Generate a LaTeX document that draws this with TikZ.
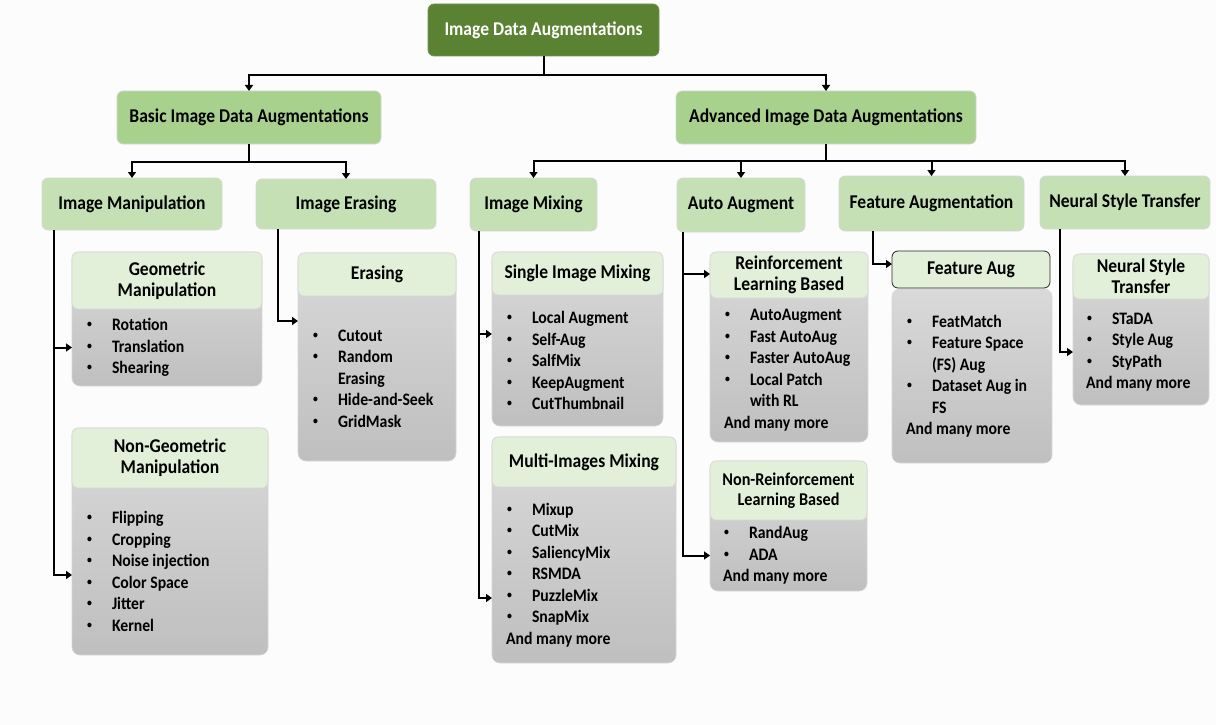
\documentclass[tikz,border=0pt]{standalone}
\usepackage{fontspec}
\setmainfont{Carlito}[FakeStretch=0.9]
\usetikzlibrary{arrows.meta,backgrounds,calc}
\definecolor{rootgreen}{HTML}{5A8232}
\definecolor{lvltwo}{HTML}{A9D18E}
\definecolor{lvlthree}{HTML}{C5E0B4}
\definecolor{hdrgreen}{HTML}{E2F0D9}
\definecolor{bodytop}{HTML}{D9D9D9}
\definecolor{bodybot}{HTML}{BFBFBF}
\definecolor{edgecol}{HTML}{D6D6D6}
\definecolor{bgcol}{HTML}{FCFCFC}
\newcommand{\smallbul}{\raisebox{0.17em}{\scalebox{0.62}{\textbullet}}}
\newcommand{\itm}[1]{\makebox[26pt][l]{\hspace*{1pt}\smallbul}#1}
\newcommand{\cnt}[1]{\hspace*{26pt}#1}
\newcommand{\hfnt}{\fontsize{19.5}{21}\selectfont\bfseries}
\newcommand{\bfnt}{\fontsize{17.5}{21.5}\selectfont\bfseries}
\begin{document}
\begin{tikzpicture}[x=1pt,y=-1pt,
  every node/.style={outer sep=0pt},
  box/.style 2 args={minimum width=#1, minimum height=#2, inner sep=0pt,
    anchor=north west, rounded corners=6pt, draw=edgecol, line width=0.7pt,
    align=center, font=\hfnt},
  rootbox/.style={fill=rootgreen, draw=rootgreen!85!white, text=white},
  twobox/.style={fill=lvltwo},
  threebox/.style={fill=lvlthree},
  hdrbox/.style={fill=hdrgreen},
  bodyarea/.style 2 args={minimum width=#1, minimum height=#2, inner sep=0pt, anchor=north west},
  lst/.style={anchor=west, align=left, inner sep=0pt, font=\bfnt},
  bodybg/.style={top color=bodytop, bottom color=bodybot, draw=edgecol, line width=0.7pt, rounded corners=8pt},
  conn/.style={draw=black, line width=2pt, -{Triangle[length=6pt,width=8pt]}},
]
% top levels
\node[box={231pt}{52pt}, rootbox] (root) at (428,4) {Image Data Augmentations};
\node[box={264pt}{53pt}, twobox] (basic) at (117,91) {Basic Image Data Augmentations};
\node[box={300pt}{53pt}, twobox] (adv) at (676,91) {Advanced Image Data Augmentations};
\node[box={180pt}{52pt}, threebox] (manip) at (42,178) {Image Manipulation};
\node[box={180pt}{50pt}, threebox] (erase) at (256,179) {Image Erasing};
\node[box={127pt}{53pt}, threebox] (mix) at (470,178) {Image Mixing};
\node[box={128pt}{54pt}, threebox] (auto) at (677,178) {Auto Augment};
\node[box={185pt}{55pt}, threebox] (feat) at (839,176) {Feature Augmentation};
\node[box={170pt}{53pt}, threebox] (nst) at (1040,176) {Neural Style Transfer};

% sub boxes: headers
\node[box={190pt}{57pt}, hdrbox] (geoH) at (72,252) {Geometric\\Manipulation};
\node[box={196pt}{60pt}, hdrbox] (ngeoH) at (72,428) {Non-Geometric\\Manipulation};
\node[box={158pt}{43pt}, hdrbox] (erH) at (298,253) {Erasing};
\node[box={171pt}{43pt}, hdrbox] (sglH) at (492,252) {Single Image Mixing};
\node[box={184pt}{50pt}, hdrbox] (mulH) at (492,437) {Multi-Images Mixing};
\node[box={158pt}{46pt}, hdrbox] (rlH) at (710,252) {Reinforcement\\Learning Based};
\node[box={157pt}{59pt}, hdrbox, font=\fontsize{18}{20.5}\selectfont\bfseries] (nrlH) at (710,461) {Non-Reinforcement\\Learning Based};
\node[box={158pt}{37pt}, hdrbox, draw=black!85, line width=0.8pt] (faH) at (892,251) {Feature Aug};
\node[box={136pt}{45pt}, hdrbox] (nstsH) at (1073,254) {Neural Style\\Transfer};

% sub boxes: body areas
\node[bodyarea={190pt}{77pt}] (geoB) at (72,309) {};
\node[bodyarea={196pt}{167pt}] (ngeoB) at (72,488) {};
\node[bodyarea={158pt}{165pt}] (erB) at (298,296) {};
\node[bodyarea={171pt}{131pt}] (sglB) at (492,295) {};
\node[bodyarea={184pt}{176pt}] (mulB) at (492,487) {};
\node[bodyarea={158pt}{144pt}] (rlB) at (710,298) {};
\node[bodyarea={157pt}{71pt}] (nrlB) at (710,520) {};
\node[bodyarea={160pt}{174pt}] (faB) at (892,289) {};
\node[bodyarea={136pt}{106pt}] (nstsB) at (1073,299) {};

% lists
\node[lst] (geoL) at ([xshift=14pt]geoB.west) {\itm{Rotation}\\\itm{Translation}\\\itm{Shearing}};
\node[lst] (ngeoL) at ([xshift=14pt]ngeoB.west) {\itm{Flipping}\\\itm{Cropping}\\\itm{Noise injection}\\\itm{Color Space}\\\itm{Jitter}\\\itm{Kernel}};
\node[lst] (erL) at ([xshift=14pt]erB.west) {\itm{Cutout}\\\itm{Random}\\\cnt{Erasing}\\\itm{Hide-and-Seek}\\\itm{GridMask}};
\node[lst] (sglL) at ([xshift=14pt]sglB.west) {\itm{Local Augment}\\\itm{Self-Aug}\\\itm{SalfMix}\\\itm{KeepAugment}\\\itm{CutThumbnail}};
\node[lst] (mulL) at ([xshift=14pt]mulB.west) {\itm{Mixup}\\\itm{CutMix}\\\itm{SaliencyMix}\\\itm{RSMDA}\\\itm{PuzzleMix}\\\itm{SnapMix}\\And many more};
\node[lst] (rlL) at ([xshift=14pt]rlB.west) {\itm{AutoAugment}\\\itm{Fast AutoAug}\\\itm{Faster AutoAug}\\\itm{Local Patch}\\\cnt{with RL}\\And many more};
\node[lst] (nrlL) at ([xshift=13pt]nrlB.west) {\itm{RandAug}\\\itm{ADA}\\And many more};
\node[lst] (faL) at ([xshift=14pt]faB.west) {\itm{FeatMatch}\\\itm{Feature Space}\\\cnt{(FS) Aug}\\\itm{Dataset Aug in}\\\cnt{FS}\\And many more};
\node[lst] (nstsL) at ([xshift=13pt]nstsB.west) {\itm{STaDA}\\\itm{Style Aug}\\\itm{StyPath}\\And many more};

% tree connectors
\draw[conn] (root.south) -- ++(0,19) -| (basic.north);
\draw[conn] (root.south) -- ++(0,19) -| (adv.north);
\draw[conn] (basic.south) -- ++(0,18) -| (manip.north);
\draw[conn] (basic.south) -- ++(0,18) -| (erase.north);
\draw[conn] (adv.south) -- ++(0,17) -| (mix.north);
\draw[conn] (adv.south) -- ++(0,17) -| (auto.north);
\draw[conn] (adv.south) -- ++(0,17) -| (feat.north);
\draw[conn] (adv.south) -- ++(0,17) -| (nst.north);

% side connectors
\coordinate (manipS) at ([xshift=12pt]manip.south west);
\coordinate (eraseS) at ([xshift=22pt]erase.south west);
\coordinate (mixS) at ([xshift=8.5pt]mix.south west);
\coordinate (autoS) at ([xshift=6pt]auto.south west);
\coordinate (featS) at ([xshift=34pt]feat.south west);
\coordinate (nstS) at ([xshift=20pt]nst.south west);
\draw[conn] (manipS) |- (geoB.west);
\draw[conn] (manipS) |- ([yshift=-3.5pt]ngeoB.west);
\draw[conn] (eraseS) |- ([yshift=-25pt]erB.north west);
\draw[conn] (mixS) |- ([yshift=-39pt]sglB.north west);
\draw[conn] (mixS) |- ([yshift=-111pt]mulB.north west);
\draw[conn] (autoS) |- ([yshift=1pt]rlH.west);
\draw[conn] (autoS) |- (nrlB.west);
\draw[conn] (featS) |- ([yshift=5.5pt]faH.west);
\draw[conn] (nstS) |- (nstsB.west);

% backgrounds
\begin{scope}[on background layer]
\fill[bgcol] (0,0) rectangle (1216,725);
\path[bodybg] (geoH.north west) rectangle (geoB.south east);
\path[bodybg] (ngeoH.north west) rectangle (ngeoB.south east);
\path[bodybg] (erH.north west) rectangle (erB.south east);
\path[bodybg] (sglH.north west) rectangle (sglB.south east);
\path[bodybg] (mulH.north west) rectangle (mulB.south east);
\path[bodybg] (rlH.north west) rectangle (rlB.south east);
\path[bodybg] (nrlH.north west) rectangle (nrlB.south east);
\path[bodybg] (faB.north west) rectangle (faB.south east);
\path[bodybg] (nstsH.north west) rectangle (nstsB.south east);
\end{scope}
\useasboundingbox (0,0) rectangle (1216,725);
\end{tikzpicture}
\end{document}
